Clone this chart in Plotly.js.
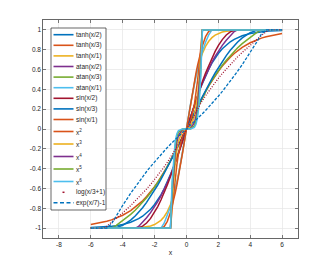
<!DOCTYPE html>
<html><head><meta charset="utf-8">
<script src="https://cdn.plot.ly/plotly-3.0.1.min.js"></script>
<style>html,body{margin:0;padding:0;background:#fff}#chart{width:330px;height:268px}</style>
</head><body><div id="chart"></div>
<script>
const xs = [-6, -5.5, -5.2, -5, -4.7, -4.4, -4, -3.5, -3.2, -3, -2.75, -2.5, -2.25, -2, -1.8, -1.6, -1.4, -1.2, -1, -0.9, -0.8, -0.7, -0.6, -0.5, -0.25, 0, 0.25, 0.5, 0.6, 0.7, 0.8, 0.9, 1, 1.2, 1.4, 1.6, 1.8, 2, 2.25, 2.5, 2.75, 3, 3.2, 3.5, 4, 4.4, 4.7, 5, 5.2, 5.5, 6];

const tanhX2 = [-0.995, -0.992, -0.989, -0.987, -0.982, -0.976, -0.964, -0.941, -0.922, -0.905, -0.880, -0.848, -0.810, -0.762, -0.716, -0.664, -0.604, -0.537, -0.462, -0.422, -0.380, -0.336, -0.291, -0.245, -0.124, 0, 0.124, 0.245, 0.291, 0.336, 0.380, 0.422, 0.462, 0.537, 0.604, 0.664, 0.716, 0.762, 0.810, 0.848, 0.880, 0.905, 0.922, 0.941, 0.964, 0.976, 0.982, 0.987, 0.989, 0.992, 0.995];
const tanhX3 = [-0.964, -0.950, -0.939, -0.931, -0.917, -0.899, -0.870, -0.824, -0.788, -0.762, -0.725, -0.682, -0.635, -0.583, -0.537, -0.488, -0.436, -0.380, -0.322, -0.291, -0.261, -0.229, -0.197, -0.165, -0.083, 0, 0.083, 0.165, 0.197, 0.229, 0.261, 0.291, 0.322, 0.380, 0.436, 0.488, 0.537, 0.583, 0.635, 0.682, 0.725, 0.762, 0.788, 0.824, 0.870, 0.899, 0.917, 0.931, 0.939, 0.950, 0.964];
const tanhX1 = [-1, -1, -1, -1, -1, -1, -0.999, -0.998, -0.997, -0.995, -0.992, -0.987, -0.978, -0.964, -0.947, -0.922, -0.885, -0.834, -0.762, -0.716, -0.664, -0.604, -0.537, -0.462, -0.245, 0, 0.245, 0.462, 0.537, 0.604, 0.664, 0.716, 0.762, 0.834, 0.885, 0.922, 0.947, 0.964, 0.978, 0.987, 0.992, 0.995, 0.997, 0.998, 0.999, 1, 1, 1, 1, 1, 1];
const atanX2 = [-1, -1, -1, -1, -1, -1, -1, -1, -1, -0.983, -0.942, -0.896, -0.844, -0.785, -0.733, -0.675, -0.611, -0.540, -0.464, -0.423, -0.381, -0.337, -0.291, -0.245, -0.124, 0, 0.124, 0.245, 0.291, 0.337, 0.381, 0.423, 0.464, 0.540, 0.611, 0.675, 0.733, 0.785, 0.844, 0.896, 0.942, 0.983, 1, 1, 1, 1, 1, 1, 1, 1, 1];
const atanX3 = [-1, -1, -1, -1, -1, -0.973, -0.927, -0.862, -0.818, -0.785, -0.742, -0.695, -0.644, -0.588, -0.540, -0.490, -0.437, -0.381, -0.322, -0.291, -0.261, -0.229, -0.197, -0.165, -0.083, 0, 0.083, 0.165, 0.197, 0.229, 0.261, 0.291, 0.322, 0.381, 0.437, 0.490, 0.540, 0.588, 0.644, 0.695, 0.742, 0.785, 0.818, 0.862, 0.927, 0.973, 1, 1, 1, 1, 1];
const atanX1 = [-1, -1, -1, -1, -1, -1, -1, -1, -1, -1, -1, -1, -1, -1, -1, -1, -0.951, -0.876, -0.785, -0.733, -0.675, -0.611, -0.540, -0.464, -0.245, 0, 0.245, 0.464, 0.540, 0.611, 0.675, 0.733, 0.785, 0.876, 0.951, 1, 1, 1, 1, 1, 1, 1, 1, 1, 1, 1, 1, 1, 1, 1, 1];
const sinX2 = [-1, -1, -1, -1, -1, -1, -1, -1, -1, -0.997, -0.981, -0.949, -0.902, -0.841, -0.783, -0.717, -0.644, -0.565, -0.479, -0.435, -0.389, -0.343, -0.296, -0.247, -0.125, 0, 0.125, 0.247, 0.296, 0.343, 0.389, 0.435, 0.479, 0.565, 0.644, 0.717, 0.783, 0.841, 0.902, 0.949, 0.981, 0.997, 1, 1, 1, 1, 1, 1, 1, 1, 1];
const sinX3 = [-1, -1, -1, -1, -1, -0.995, -0.972, -0.920, -0.876, -0.841, -0.794, -0.740, -0.682, -0.618, -0.565, -0.508, -0.450, -0.389, -0.327, -0.296, -0.264, -0.231, -0.199, -0.166, -0.083, 0, 0.083, 0.166, 0.199, 0.231, 0.264, 0.296, 0.327, 0.389, 0.450, 0.508, 0.565, 0.618, 0.682, 0.740, 0.794, 0.841, 0.876, 0.920, 0.972, 0.995, 1, 1, 1, 1, 1];
const sinX1 = [-1, -1, -1, -1, -1, -1, -1, -1, -1, -1, -1, -1, -1, -1, -1, -1, -0.985, -0.932, -0.841, -0.783, -0.717, -0.644, -0.565, -0.479, -0.247, 0, 0.247, 0.479, 0.565, 0.644, 0.717, 0.783, 0.841, 0.932, 0.985, 1, 1, 1, 1, 1, 1, 1, 1, 1, 1, 1, 1, 1, 1, 1, 1];
const xPow2 = [-1, -1, -1, -1, -1, -1, -1, -1, -1, -1, -1, -1, -1, -1, -1, -1, -1, -1, -1, -0.81, -0.64, -0.49, -0.36, -0.25, -0.063, 0, 0.063, 0.25, 0.36, 0.49, 0.64, 0.81, 1, 1, 1, 1, 1, 1, 1, 1, 1, 1, 1, 1, 1, 1, 1, 1, 1, 1, 1];
const xPow3 = [-1, -1, -1, -1, -1, -1, -1, -1, -1, -1, -1, -1, -1, -1, -1, -1, -1, -1, -1, -0.729, -0.512, -0.343, -0.216, -0.125, -0.016, 0, 0.016, 0.125, 0.216, 0.343, 0.512, 0.729, 1, 1, 1, 1, 1, 1, 1, 1, 1, 1, 1, 1, 1, 1, 1, 1, 1, 1, 1];
const xPow4 = [-1, -1, -1, -1, -1, -1, -1, -1, -1, -1, -1, -1, -1, -1, -1, -1, -1, -1, -1, -0.656, -0.410, -0.240, -0.130, -0.063, -0.004, 0, 0.004, 0.063, 0.130, 0.240, 0.410, 0.656, 1, 1, 1, 1, 1, 1, 1, 1, 1, 1, 1, 1, 1, 1, 1, 1, 1, 1, 1];
const xPow5 = [-1, -1, -1, -1, -1, -1, -1, -1, -1, -1, -1, -1, -1, -1, -1, -1, -1, -1, -1, -0.590, -0.328, -0.168, -0.078, -0.031, -0.001, 0, 0.001, 0.031, 0.078, 0.168, 0.328, 0.590, 1, 1, 1, 1, 1, 1, 1, 1, 1, 1, 1, 1, 1, 1, 1, 1, 1, 1, 1];
const xPow6 = [-1, -1, -1, -1, -1, -1, -1, -1, -1, -1, -1, -1, -1, -1, -1, -1, -1, -1, -1, -0.531, -0.262, -0.118, -0.047, -0.016, 0, 0, 0, 0.016, 0.047, 0.118, 0.262, 0.531, 1, 1, 1, 1, 1, 1, 1, 1, 1, 1, 1, 1, 1, 1, 1, 1, 1, 1, 1];
const logX3 = [-1, -1, -1, -0.981, -0.943, -0.903, -0.847, -0.773, -0.726, -0.693, -0.651, -0.606, -0.560, -0.511, -0.470, -0.427, -0.383, -0.336, -0.288, -0.262, -0.236, -0.210, -0.182, -0.154, -0.080, 0, 0.080, 0.154, 0.182, 0.210, 0.236, 0.262, 0.288, 0.336, 0.383, 0.427, 0.470, 0.511, 0.560, 0.606, 0.651, 0.693, 0.726, 0.773, 0.847, 0.903, 0.943, 0.981, 1, 1, 1];
const expX7 = [-1, -1, -1, -1, -0.957, -0.875, -0.771, -0.649, -0.580, -0.535, -0.481, -0.429, -0.379, -0.331, -0.293, -0.257, -0.221, -0.187, -0.154, -0.137, -0.121, -0.105, -0.090, -0.074, -0.036, 0, 0.036, 0.074, 0.090, 0.105, 0.121, 0.137, 0.154, 0.187, 0.221, 0.257, 0.293, 0.331, 0.379, 0.429, 0.481, 0.535, 0.580, 0.649, 0.771, 0.875, 0.957, 1, 1, 1, 1];

const seriesNames = ['tanh(x/2)', 'tanh(x/3)', 'tanh(x/1)', 'atan(x/2)', 'atan(x/3)', 'atan(x/1)', 'sin(x/2)', 'sin(x/3)', 'sin(x/1)', 'x<sup>2</sup>', 'x<sup>3</sup>', 'x<sup>4</sup>', 'x<sup>5</sup>', 'x<sup>6</sup>', 'log(x/3+1)', 'exp(x/7)-1'];
const xTickVals = [-8, -6, -4, -2, 0, 2, 4, 6];
const xTickText = ['-8', '-6', '-4', '-2', '0', '2', '4', '6'];
const yTickVals = [-1, -0.8, -0.6, -0.4, -0.2, 0, 0.2, 0.4, 0.6, 0.8, 1];
const yTickText = ['-1', '-0.8', '-0.6', '-0.4', '-0.2', '0', '0.2', '0.4', '0.6', '0.8', '1'];

const seriesY = [tanhX2, tanhX3, tanhX1, atanX2, atanX3, atanX1, sinX2, sinX3, sinX1, xPow2, xPow3, xPow4, xPow5, xPow6, logX3, expX7];
const C = {blue:'#0072BD', orange:'#D95319', yellow:'#EDB120', purple:'#7E2F8E', green:'#77AC30', lblue:'#4DBEEE', red:'#A2142F'};
const colors = [C.blue, C.orange, C.yellow, C.purple, C.green, C.lblue, C.red, C.blue, C.orange, C.orange, C.yellow, C.purple, C.green, C.lblue, C.red, C.blue];
const dashes = ['solid','solid','solid','solid','solid','solid','solid','solid','solid','solid','solid','solid','solid','solid','1px,1.6px','3px,1.6px'];
const widths = [1.5,1.5,1.5,1.5,1.5,1.5,1.5,1.5,1.5,1.5,1.5,1.5,1.5,1.5,1.3,1.3];

const W = 330, H = 268, M = {l: 43, r: 32, t: 20, b: 30};
const PW = W - M.l - M.r, PH = H - M.t - M.b;
const px = v => (v - M.l) / PW;
const py = v => (H - M.b - v) / PH;

const traces = seriesY.map((y, i) => ({
  x: xs, y: y, type: 'scatter', mode: 'lines', name: seriesNames[i],
  line: {color: colors[i], width: widths[i], dash: dashes[i]},
  showlegend: false, hoverinfo: 'skip'
}));

// compact MATLAB-style legend
const rowY = [34.7, 45.3, 55.9, 66.5, 77.1, 87.7, 98.3, 108.9, 119.5, 131.5, 144, 156.5, 169, 181.5, 192.3, 202.7];
const legendDash = ['solid','solid','solid','solid','solid','solid','solid','solid','solid','solid','solid','solid','solid','solid','1.5px,30px','4px,2.5px'];
const shapes = [{type: 'rect', xref: 'paper', yref: 'paper', x0: px(51), x1: px(106), y0: py(210), y1: py(28),
  fillcolor: '#ffffff', line: {color: '#262626', width: 0.7}, layer: 'above'}];
const annotations = [];
seriesNames.forEach((n, i) => {
  const isDot = i === 14;
  shapes.push({type: 'line', xref: 'paper', yref: 'paper',
    x0: px(isDot ? 62.5 : 53.5), x1: px(isDot ? 64.5 : 73.5), y0: py(rowY[i]), y1: py(rowY[i]),
    line: {color: colors[i], width: isDot ? 1.5 : 1.6, dash: isDot ? 'solid' : legendDash[i]}, layer: 'above'});
  annotations.push({text: n, xref: 'paper', yref: 'paper', x: px(74.5), y: py(rowY[i]), xanchor: 'left', yanchor: 'middle',
    showarrow: false, font: {size: 6.5, color: '#262626'}, borderpad: 0});
});

const axisCommon = {
  ticks: 'inside', ticklen: 3, tickwidth: 0.6, tickcolor: '#262626',
  showline: true, linecolor: '#262626', linewidth: 0.7, mirror: 'ticks',
  showgrid: true, gridcolor: '#e6e6e6', gridwidth: 0.7, zeroline: false,
  tickfont: {size: 6.5, color: '#262626'}, fixedrange: true, tickmode: 'array'
};

const layout = {
  width: W, height: H, margin: M, paper_bgcolor: '#ffffff', plot_bgcolor: '#ffffff',
  font: {family: 'Liberation Sans, Arial, sans-serif', color: '#262626'},
  showlegend: false,
  xaxis: Object.assign({}, axisCommon, {range: [-9, 7], tickvals: xTickVals, ticktext: xTickText,
    title: {text: 'x', font: {size: 7, color: '#262626'}, standoff: 3}}),
  yaxis: Object.assign({}, axisCommon, {range: [-1.1, 1.1], tickvals: yTickVals, ticktext: yTickText}),
  shapes: shapes, annotations: annotations
};

Plotly.newPlot('chart', traces, layout, {displayModeBar: false, staticPlot: true});
</script>
</body></html>
